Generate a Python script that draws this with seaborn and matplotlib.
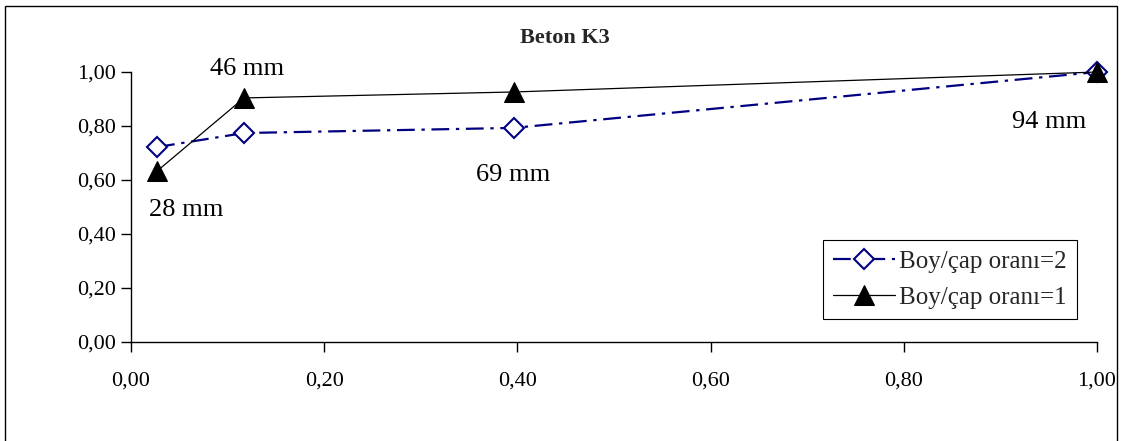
import numpy as np
import pandas as pd
import matplotlib
matplotlib.use("Agg")
import matplotlib.pyplot as plt
from matplotlib.patches import Rectangle
from matplotlib.ticker import FuncFormatter
import seaborn as sns

# volume ratio (x) and relative strength (y)
x_vals = [0.027, 0.117, 0.396, 1.00]
ratio2_vals = [0.722, 0.774, 0.793, 1.00]   # Boy/çap oranı=2
ratio1_vals = [0.633, 0.904, 0.926, 1.00]   # Boy/çap oranı=1
size_labels = ["28 mm", "46 mm", "69 mm", "94 mm"]
series_names = ["Boy/çap oranı=2", "Boy/çap oranı=1"]

df = pd.DataFrame({
    "x": x_vals * 2,
    "y": ratio2_vals + ratio1_vals,
    "seri": [series_names[0]] * 4 + [series_names[1]] * 4,
})

sns.set_style("ticks")
plt.rcParams["font.family"] = ["Liberation Serif", "DejaVu Serif"]

fig = plt.figure(figsize=(11.33, 4.41), dpi=100)
ax = fig.add_axes([0.1156, 0.2245, 0.8526, 0.6122])

# outer chart border
fig.patches.append(Rectangle((5 / 1133, -0.1), (1117 - 5) / 1133, 1.1 - 6 / 441,
                             transform=fig.transFigure, fill=False,
                             edgecolor="black", linewidth=1.0))

d2 = df[df["seri"] == series_names[0]]
d1 = df[df["seri"] == series_names[1]]
sns.lineplot(data=d2, x="x", y="y", ax=ax, color="#000080", linewidth=1.6,
             linestyle=(0, (8, 3, 1.5, 3)), marker="D", markersize=10,
             markerfacecolor="white", markeredgecolor="#000080",
             markeredgewidth=1.5, label=series_names[0], zorder=3, clip_on=False)
sns.lineplot(data=d1, x="x", y="y", ax=ax, color="black", linewidth=0.9,
             marker="^", markersize=15, markerfacecolor="black",
             markeredgecolor="black", label=series_names[1], zorder=4, clip_on=False)

ax.set_xlim(0, 1)
ax.set_ylim(0, 1)
ax.set_xticks(np.arange(0, 1.01, 0.2))
ax.set_yticks(np.arange(0, 1.01, 0.2))
fmt = FuncFormatter(lambda v, p: f"{v:.2f}".replace(".", ","))
ax.xaxis.set_major_formatter(fmt)
ax.yaxis.set_major_formatter(fmt)
ax.tick_params(axis="both", labelsize=16, length=7, width=1, direction="out",
               color="black", labelcolor="black")
ax.tick_params(axis="x", pad=14)
ax.tick_params(axis="y", pad=4)
for s in ["top", "right"]:
    ax.spines[s].set_visible(False)
for s in ["left", "bottom"]:
    ax.spines[s].set_color("black")
    ax.spines[s].set_linewidth(1)
ax.set_xlabel("")
ax.set_ylabel("")

fig.text(565 / 1133, 1 - 38 / 441, "Beton K3", fontsize=16, fontweight="bold",
         ha="center", va="center")

# size annotations
label_pos = [(0.057, 0.49), (0.120, 1.01), (0.396, 0.62), (0.950, 0.815)]
for txt, (lx, ly) in zip(size_labels, label_pos):
    ax.text(lx, ly, txt, fontsize=19, ha="center", va="center", color="black")

leg = ax.legend(loc="lower right", fontsize=18, frameon=True, fancybox=False,
                edgecolor="black", framealpha=1, borderpad=0.4,
                handlelength=2.5, handletextpad=0.15, labelspacing=0.55,
                borderaxespad=0, bbox_to_anchor=(0.979, 0.085))
leg.get_frame().set_linewidth(0.8)

fig.savefig("out.png", dpi=100)
